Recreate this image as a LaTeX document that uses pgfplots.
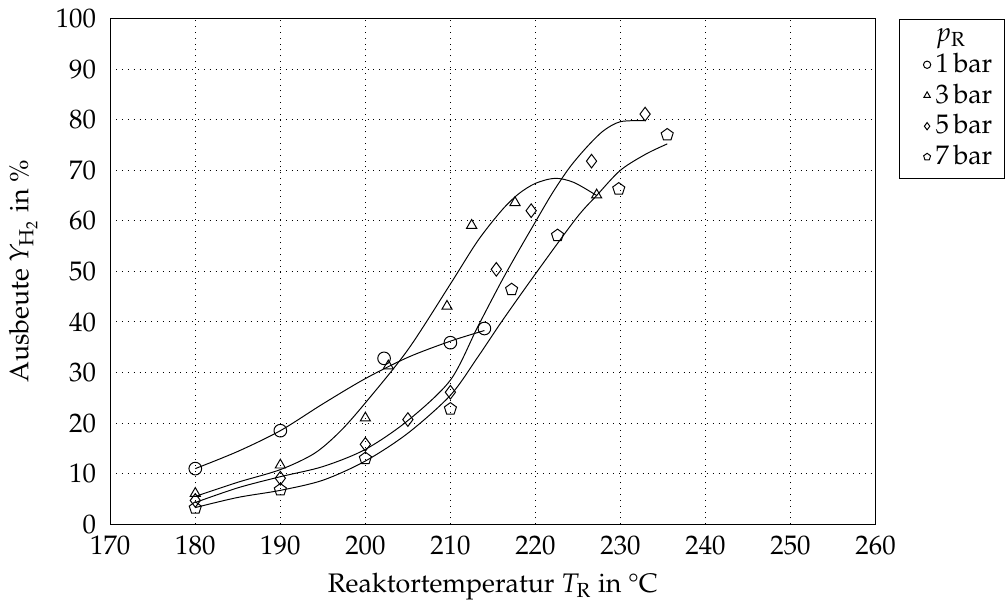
\documentclass[border=0pt]{standalone}
\usepackage[T1]{fontenc}
\usepackage{mathpazo}
\usepackage{textcomp}
\usepackage{pgfplots}
\pgfplotsset{compat=1.18}
\begin{document}
\fontsize{11}{13.2}\selectfont
\begin{tikzpicture}
\begin{axis}[
  scale only axis,
  width=314pt, height=207.5pt,
  xmin=170, xmax=260, ymin=0, ymax=100,
  xtick={170,180,...,260}, ytick={0,10,...,100},
  grid=major,
  major grid style={dotted, black},
  tick style={draw=none},
  yticklabel style={xshift=-2pt},
  xticklabel style={yshift=-1pt},
  xlabel={Reaktortemperatur $T_\mathrm{R}$ in \textdegree C},
  ylabel={Ausbeute $Y_{\mathrm{H}_2}$ in \%},
  legend style={at={(1.03,1)}, anchor=north west, draw=black, row sep=-1pt, inner xsep=3pt},
  legend cell align=left,
  legend image post style={mark size=1.5pt},
]
% fitted curves
\addplot[black, smooth, no marks, forget plot] coordinates {
(180,11) (185,14.4) (190,18.5) (195,23.8) (200,28.8) (205,33) (210,36.2) (214,38.3)};
\addplot[black, smooth, no marks, forget plot] coordinates {
(180,5.5) (185,8.3) (190,10.8) (194,14) (197,18.3) (200,24) (205,34.5) (210,47.5) (213.2,56) (216,62) (218,65.3) (220,67.4) (222.3,68.4) (224.5,67.6) (227.2,65)};
\addplot[black, smooth, no marks, forget plot] coordinates {
(180,4.3) (185,7.2) (190,9.4) (195,11.4) (200,14.8) (205,20.5) (210,28.5) (213.2,39) (216,48) (218,54) (220,59.8) (222,65.5) (224,70.5) (226,74.5) (228,77.8) (230,79.6) (232.8,79.8)};
\addplot[black, smooth, no marks, forget plot] coordinates {
(180,3.3) (185,5.3) (190,6.7) (195,8.7) (200,12.5) (205,18) (210,25.5) (213.2,33) (216,40) (220,49.5) (224.8,60.5) (227.2,65) (230,70) (233,73.2) (235.5,75.2)};
% data
\addplot[only marks, mark=o, mark size=2.6pt, forget plot] coordinates {
(180,11) (190,18.5) (202.2,32.8) (210,35.9) (214,38.7)};
\addplot[only marks, mark=triangle, mark size=2.4pt, forget plot] coordinates {
(180,6.1) (190,11.7) (200,21) (202.7,31.3) (209.6,43.1) (212.5,59.1) (217.6,63.6) (227.2,65.1)};
\addplot[only marks, mark=diamond, mark size=2.8pt, forget plot] coordinates {
(180,4.7) (190,9.1) (200,15.8) (205,20.7) (210,26.1) (215.4,50.4) (219.5,62) (226.6,71.8) (232.9,81.1)};
\addplot[only marks, mark=pentagon, mark size=2.6pt, forget plot] coordinates {
(180,3.2) (190,6.8) (200,13) (210,22.8) (217.2,46.4) (222.6,57.1) (229.8,66.3) (235.5,77)};
% legend
\addlegendimage{empty legend}\addlegendentry{$p_\mathrm{R}$}
\addlegendimage{only marks, mark=o}\addlegendentry{1\,bar}
\addlegendimage{only marks, mark=triangle}\addlegendentry{3\,bar}
\addlegendimage{only marks, mark=diamond}\addlegendentry{5\,bar}
\addlegendimage{only marks, mark=pentagon}\addlegendentry{7\,bar}
\end{axis}
\end{tikzpicture}
\end{document}
